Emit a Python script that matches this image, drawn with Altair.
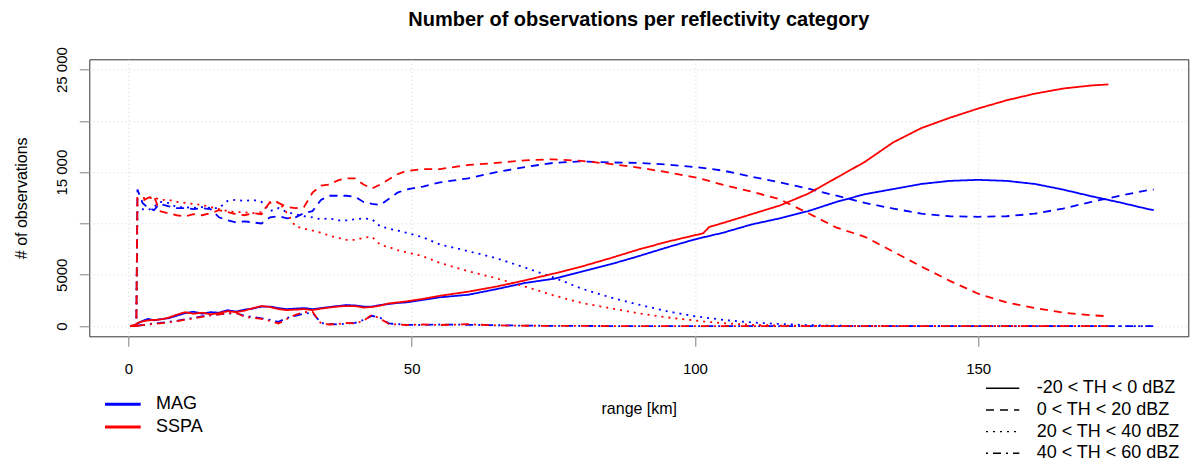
import pandas as pd
import altair as alt

# Number of observations per range bin, per radar and reflectivity class

chart_title = "Number of observations per reflectivity category"
radars = ["MAG", "SSPA"]
radar_colors = ["#0000ff", "#ff0000"]
categories = ["-20 < TH < 0 dBZ", "0 < TH < 20 dBZ", "20 < TH < 40 dBZ", "40 < TH < 60 dBZ"]

range_mag = [0.3, 1.4, 1.6, 2.5, 3.5, 4.5, 5.5,
             7, 8.5, 10, 11.5, 13, 14.5, 16, 17.5, 19, 20.5,
             22, 23.5, 25, 26.5, 28, 29.5, 31, 32.5, 34, 35.5,
             37, 38.5, 40, 41.5, 43, 44.5, 46, 47.5, 49,
             52, 55, 60, 65, 70, 75, 80, 85, 90, 95,
             100, 105, 110, 115, 120, 125, 130, 135, 140, 145,
             150, 155, 160, 165, 170, 175, 180, 181]

range_sspa = [0.3, 1.4, 1.6, 2.5, 3.5, 4.5, 5.5,
              7, 8.5, 10, 11.5, 13, 14.5, 16, 17.5, 19, 20.5,
              22, 23.5, 25, 26.5, 28, 29.5, 31, 32.5, 34, 35.5,
              37, 38.5, 40, 41.5, 43, 44.5, 46, 47.5, 49,
              52, 55, 60, 65, 70, 75, 80, 85, 90, 95,
              100, 101.5, 102.5, 105, 110, 115, 120, 125, 130, 135,
              140, 145, 150, 155, 160, 165, 170, 173]

# MAG
mag_m20_0 = [0, 100, 250, 500, 700, 550, 650,
             750, 1000, 1250, 1400, 1200, 1350, 1300, 1550, 1400, 1600,
             1700, 1900, 1900, 1750, 1650, 1700, 1750, 1650, 1750, 1850,
             1950, 2050, 2000, 1900, 1900, 2050, 2150, 2250, 2300,
             2550, 2800, 3050, 3600, 4200, 4600, 5300, 6000, 6800, 7650,
             8450, 9100, 9900, 10500, 11200, 12100, 12850, 13350, 13850, 14150,
             14250, 14150, 13850, 13300, 12650, 12050, 11400, 11300]
mag_0_20 = [0, 0, 13300, 12000, 11500, 11300, 11900,
            11700, 11500, 11500, 11400, 11500, 11400, 10600, 10300, 10100, 10200,
            10100, 10000, 10600, 10700, 10500, 10600, 11000, 11200, 12300, 12700,
            12700, 12700, 12600, 12100, 11900, 11800, 12400, 13000, 13300,
            13600, 14000, 14400, 15000, 15500, 15900, 16050, 15950, 15900, 15750,
            15500, 15150, 14550, 14000, 13400, 12700, 12000, 11450, 10950, 10700,
            10650, 10700, 10950, 11450, 12100, 12700, 13250, 13300]
mag_20_40 = [0, 0, 11200, 11400, 11300, 11600, 12100,
             12000, 11600, 11600, 11500, 11600, 11500, 11500, 12200, 12300, 12200,
             12300, 12100, 11200, 11500, 11100, 10900, 10700, 10600, 10400, 10500,
             10300, 10300, 10400, 10500, 10400, 9700, 9500, 9300, 9100,
             8650, 7950, 7300, 6600, 5700, 4750, 3650, 2800, 2100, 1450,
             950, 600, 350, 200, 90, 30, 10, 0, 0, 0,
             0, 0, 0, 0, 0, 0, 0, 0]
mag_40_60 = [0, 0, 30, 100, 200, 250, 300,
             400, 500, 650, 800, 950, 1050, 1150, 1200, 1250, 1000,
             900, 750, 600, 400, 800, 1000, 1200, 1300, 300, 200,
             150, 250, 300, 600, 1000, 800, 250, 200, 120,
             100, 150, 120, 80, 40, 20, 10, 0, 0, 0,
             0, 0, 0, 0, 0, 0, 0, 0, 0, 0,
             0, 0, 0, 0, 0, 0, 0, 0]

# SSPA
sspa_m20_0 = [0, 150, 300, 450, 550, 600, 620,
              800, 1100, 1350, 1200, 1300, 1150, 1250, 1450, 1350, 1500,
              1750, 1950, 1850, 1650, 1550, 1600, 1650, 1550, 1700, 1800,
              1900, 1950, 1950, 1800, 1850, 2000, 2200, 2300, 2400,
              2650, 2950, 3350, 3850, 4450, 5100, 5800, 6600, 7450, 8200,
              8850, 9050, 9650, 10050, 10900, 11750, 12900, 14450, 16000, 17900,
              19300, 20300, 21200, 22000, 22650, 23150, 23450, 23550]
sspa_0_20 = [0, 0, 12400, 12200, 12500, 12700, 11200,
             11000, 10800, 10700, 10900, 10800, 11000, 11300, 11100, 10900, 10800,
             11000, 10900, 12100, 12000, 11600, 11500, 11600, 13000, 13700, 13800,
             14200, 14400, 14400, 13800, 13400, 13800, 14300, 14800, 15100,
             15300, 15300, 15700, 15900, 16150, 16250, 16100, 15800, 15450, 15000,
             14500, 14300, 14150, 13750, 13100, 12350, 11000, 9600, 8700, 7250,
             5800, 4400, 3150, 2300, 1750, 1300, 1050, 950]
sspa_20_40 = [0, 0, 12500, 12500, 12400, 12600, 12300,
              12300, 12100, 12000, 11900, 11800, 11600, 11400, 11200, 11100, 11100,
              11000, 11100, 12000, 12100, 11000, 9700, 9500, 9300, 9100, 8800,
              8600, 8400, 8400, 8600, 8700, 7900, 7700, 7400, 7200,
              6800, 6150, 5350, 4650, 3850, 3000, 2250, 1750, 1250, 850,
              550, 450, 400, 280, 120, 50, 20, 0, 0, 0,
              0, 0, 0, 0, 0, 0, 0, 0]
sspa_40_60 = [0, 0, 20, 80, 150, 200, 250,
              350, 480, 600, 750, 900, 1050, 1150, 1250, 1300, 900,
              800, 700, 500, 250, 700, 1100, 1350, 1400, 250, 150,
              200, 300, 250, 500, 1100, 700, 200, 150, 100,
              150, 100, 180, 60, 30, 20, 10, 0, 0, 0,
              0, 0, 0, 0, 0, 0, 0, 0, 0, 0,
              0, 0, 0, 0, 0, 0, 0, 0]

series = [
    ("MAG", categories[0], range_mag, mag_m20_0),
    ("MAG", categories[1], range_mag, mag_0_20),
    ("MAG", categories[2], range_mag, mag_20_40),
    ("MAG", categories[3], range_mag, mag_40_60),
    ("SSPA", categories[0], range_sspa, sspa_m20_0),
    ("SSPA", categories[1], range_sspa, sspa_0_20),
    ("SSPA", categories[2], range_sspa, sspa_20_40),
    ("SSPA", categories[3], range_sspa, sspa_40_60),
]

rows = []
for radar, cat, xs, ys in series:
    for x, y in zip(xs, ys):
        rows.append({"radar": radar, "category": cat, "range": x, "count": y})
obs = pd.DataFrame(rows)

#%%
x_scale = alt.Scale(domain=[-6.9, 187.1], nice=False, zero=False)
y_scale = alt.Scale(domain=[-1000, 26000], nice=False, zero=False)
color_scale = alt.Scale(domain=radars, range=radar_colors)
dash_scale = alt.Scale(domain=categories, range=[[1, 0], [8, 6], [2, 5], [2, 5, 8, 5]])

grid_style = dict(grid=True, gridColor="#d3d3d3", gridDash=[1, 3], gridWidth=1,
                  domain=False, tickSize=10, tickColor="#7f7f7f",
                  labelColor="black", labelFontSize=15, labelOverlap=False,
                  titleColor="black", titleFontSize=16, titleFontWeight="normal")

x_axis = alt.Axis(values=[0, 50, 100, 150], title="range [km]",
                  labelPadding=27, labelBaseline="alphabetic", labelFlush=False,
                  titleX=549.5, titleY=77.3, titleAlign="center", titleBaseline="alphabetic",
                  **grid_style)
y_axis = alt.Axis(values=[0, 5000, 10000, 15000, 20000, 25000],
                  labelExpr="datum.value == 10000 || datum.value == 20000 ? '' : "
                            "(datum.value >= 10000 ? floor(datum.value / 1000) + ' 000' : '' + datum.value)",
                  title="# of observations",
                  labelAngle=270, labelAlign="center", labelBaseline="alphabetic", labelPadding=12.6,
                  titleAngle=270, titleX=-62.8, titleY=138.5, titleAlign="center",
                  titleBaseline="alphabetic",
                  **grid_style)


def radar_lines(radar):
    return alt.Chart(obs).transform_filter(alt.datum.radar == radar).mark_line(strokeWidth=1.8).encode(
        x=alt.X("range:Q", scale=x_scale, axis=x_axis),
        y=alt.Y("count:Q", scale=y_scale, axis=y_axis),
        color=alt.Color("radar:N", scale=color_scale, legend=None),
        strokeDash=alt.StrokeDash("category:N", scale=dash_scale, legend=None),
    )


lines = alt.layer(radar_lines("MAG"), radar_lines("SSPA"))

# legends drawn by hand below the plot, as in the R figure
legend_radar = pd.DataFrame({"radar": radars})
legend_cat = pd.DataFrame({"category": categories})

radar_y = alt.Y("radar:N", scale=alt.Scale(type="point", domain=radars, range=[345, 367.7], padding=0), axis=None)
cat_y = alt.Y("category:N", scale=alt.Scale(type="point", domain=categories, range=[329, 394], padding=0), axis=None)

radar_keys = alt.Chart(legend_radar).mark_rule(strokeWidth=3).encode(
    x=alt.value(15.7), x2=alt.value(51.4), y=radar_y,
    color=alt.Color("radar:N", scale=color_scale, legend=None),
)
radar_labels = alt.Chart(legend_radar).mark_text(align="left", baseline="middle", fontSize=18).encode(
    x=alt.value(66.7), y=radar_y, text="radar:N"
)
cat_keys = alt.Chart(legend_cat).mark_rule(strokeWidth=1.4, color="black").encode(
    x=alt.value(896.7), x2=alt.value(930), y=cat_y,
    strokeDash=alt.StrokeDash("category:N", scale=dash_scale, legend=None),
)
cat_labels = alt.Chart(legend_cat).mark_text(align="left", baseline="middle", fontSize=18).encode(
    x=alt.value(947.4), y=cat_y, text="category:N"
)

title = alt.Chart(pd.DataFrame({"title": [chart_title]})).mark_text(
    fontSize=20, fontWeight="bold", align="center", baseline="alphabetic"
).encode(x=alt.value(549.5), y=alt.value(-33), text="title:N")

chart = alt.layer(
    lines, radar_keys, radar_labels, cat_keys, cat_labels, title
).resolve_scale(
    y="independent"
).properties(
    width=1099,
    height=277,
    padding={"left": 81.3, "top": 51.3, "right": 5, "bottom": 128},
    autosize=alt.AutoSizeParams(type="none"),
).configure(
    font="Liberation Sans"
).configure_view(
    stroke="#333333", strokeWidth=1
)

chart.save("out.html", embed_options={"renderer": "svg", "actions": False})
